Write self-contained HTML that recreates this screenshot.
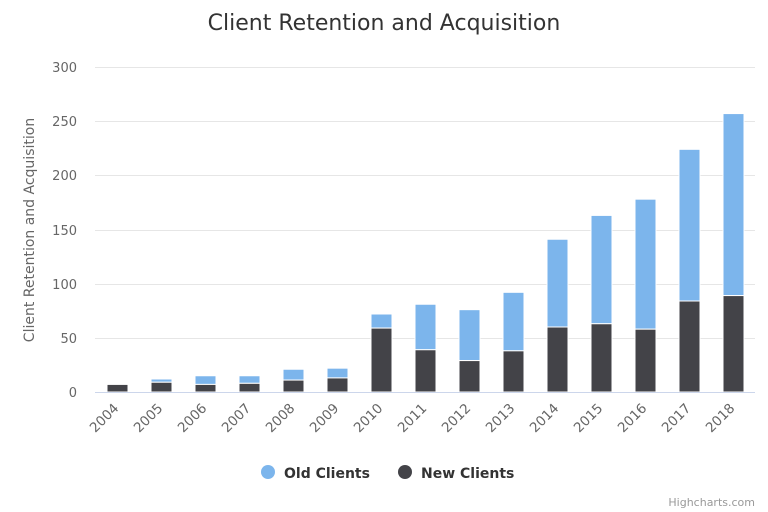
<!DOCTYPE html>
<html><head><style>body{margin:0;background:#fff}svg{display:block;font-family:"DejaVu Sans","Liberation Sans",sans-serif}</style></head>
<body>
<svg width="768" height="512" xmlns="http://www.w3.org/2000/svg">
<text x="384" y="30" text-anchor="middle" font-size="22" fill="#333">Client Retention and Acquisition</text>
<g stroke="#e6e6e6" stroke-width="1">
<line x1="95" x2="755" y1="67.5" y2="67.5"/><line x1="95" x2="755" y1="121.5" y2="121.5"/><line x1="95" x2="755" y1="175.5" y2="175.5"/><line x1="95" x2="755" y1="230.5" y2="230.5"/><line x1="95" x2="755" y1="284.5" y2="284.5"/><line x1="95" x2="755" y1="338.5" y2="338.5"/>
</g>
<g font-size="13" fill="#666" text-anchor="end">
<text x="77" y="72">300</text><text x="77" y="126">250</text><text x="77" y="180">200</text><text x="77" y="235">150</text><text x="77" y="289">100</text><text x="77" y="343">50</text><text x="77" y="397">0</text>
</g>
<text transform="translate(34,230) rotate(-90)" text-anchor="middle" font-size="14" fill="#666">Client Retention and Acquisition</text>
<g fill="#7cb5ec" stroke="#fff" stroke-width="1">
<rect x="151" y="379" width="21" height="3.25"/>
<rect x="195" y="375.75" width="21" height="8.67"/>
<rect x="239" y="375.75" width="21" height="7.58"/>
<rect x="283" y="369.25" width="21" height="10.83"/>
<rect x="327" y="368.17" width="21" height="9.75"/>
<rect x="371" y="314" width="21" height="14.08"/>
<rect x="415" y="304.25" width="21" height="45.5"/>
<rect x="459" y="309.67" width="21" height="50.91"/>
<rect x="503" y="292.33" width="21" height="58.5"/>
<rect x="547" y="239.25" width="21" height="87.75"/>
<rect x="591" y="215.42" width="21" height="108.33"/>
<rect x="635" y="199.17" width="21" height="130"/>
<rect x="679" y="149.33" width="21" height="151.67"/>
<rect x="723" y="113.58" width="21" height="182"/>
</g>
<g fill="#434348" stroke="#fff" stroke-width="1">
<rect x="107" y="384.42" width="21" height="7.58"/>
<rect x="151" y="382.25" width="21" height="9.75"/>
<rect x="195" y="384.42" width="21" height="7.58"/>
<rect x="239" y="383.33" width="21" height="8.67"/>
<rect x="283" y="380.08" width="21" height="11.92"/>
<rect x="327" y="377.92" width="21" height="14.08"/>
<rect x="371" y="328.08" width="21" height="63.92"/>
<rect x="415" y="349.75" width="21" height="42.25"/>
<rect x="459" y="360.58" width="21" height="31.42"/>
<rect x="503" y="350.83" width="21" height="41.17"/>
<rect x="547" y="327" width="21" height="65"/>
<rect x="591" y="323.75" width="21" height="68.25"/>
<rect x="635" y="329.17" width="21" height="62.83"/>
<rect x="679" y="301" width="21" height="91"/>
<rect x="723" y="295.58" width="21" height="96.42"/>
</g>
<line x1="95" x2="755" y1="392.5" y2="392.5" stroke="#ccd6eb"/>
<g font-size="13.5" fill="#666" text-anchor="end">
<text transform="translate(119.5,409) rotate(-45)">2004</text>
<text transform="translate(163.5,409) rotate(-45)">2005</text>
<text transform="translate(207.5,409) rotate(-45)">2006</text>
<text transform="translate(251.5,409) rotate(-45)">2007</text>
<text transform="translate(295.5,409) rotate(-45)">2008</text>
<text transform="translate(339.5,409) rotate(-45)">2009</text>
<text transform="translate(383.5,409) rotate(-45)">2010</text>
<text transform="translate(427.5,409) rotate(-45)">2011</text>
<text transform="translate(471.5,409) rotate(-45)">2012</text>
<text transform="translate(515.5,409) rotate(-45)">2013</text>
<text transform="translate(559.5,409) rotate(-45)">2014</text>
<text transform="translate(603.5,409) rotate(-45)">2015</text>
<text transform="translate(647.5,409) rotate(-45)">2016</text>
<text transform="translate(691.5,409) rotate(-45)">2017</text>
<text transform="translate(735.5,409) rotate(-45)">2018</text>
</g>
<circle cx="268" cy="472" r="7" fill="#7cb5ec"/>
<text x="284" y="478" font-size="14" font-weight="bold" fill="#333">Old Clients</text>
<circle cx="405" cy="472" r="7" fill="#434348"/>
<text x="421" y="478" font-size="14" font-weight="bold" fill="#333">New Clients</text>
<text x="755" y="506" text-anchor="end" font-size="11" fill="#999">Highcharts.com</text>
</svg>
</body></html>
